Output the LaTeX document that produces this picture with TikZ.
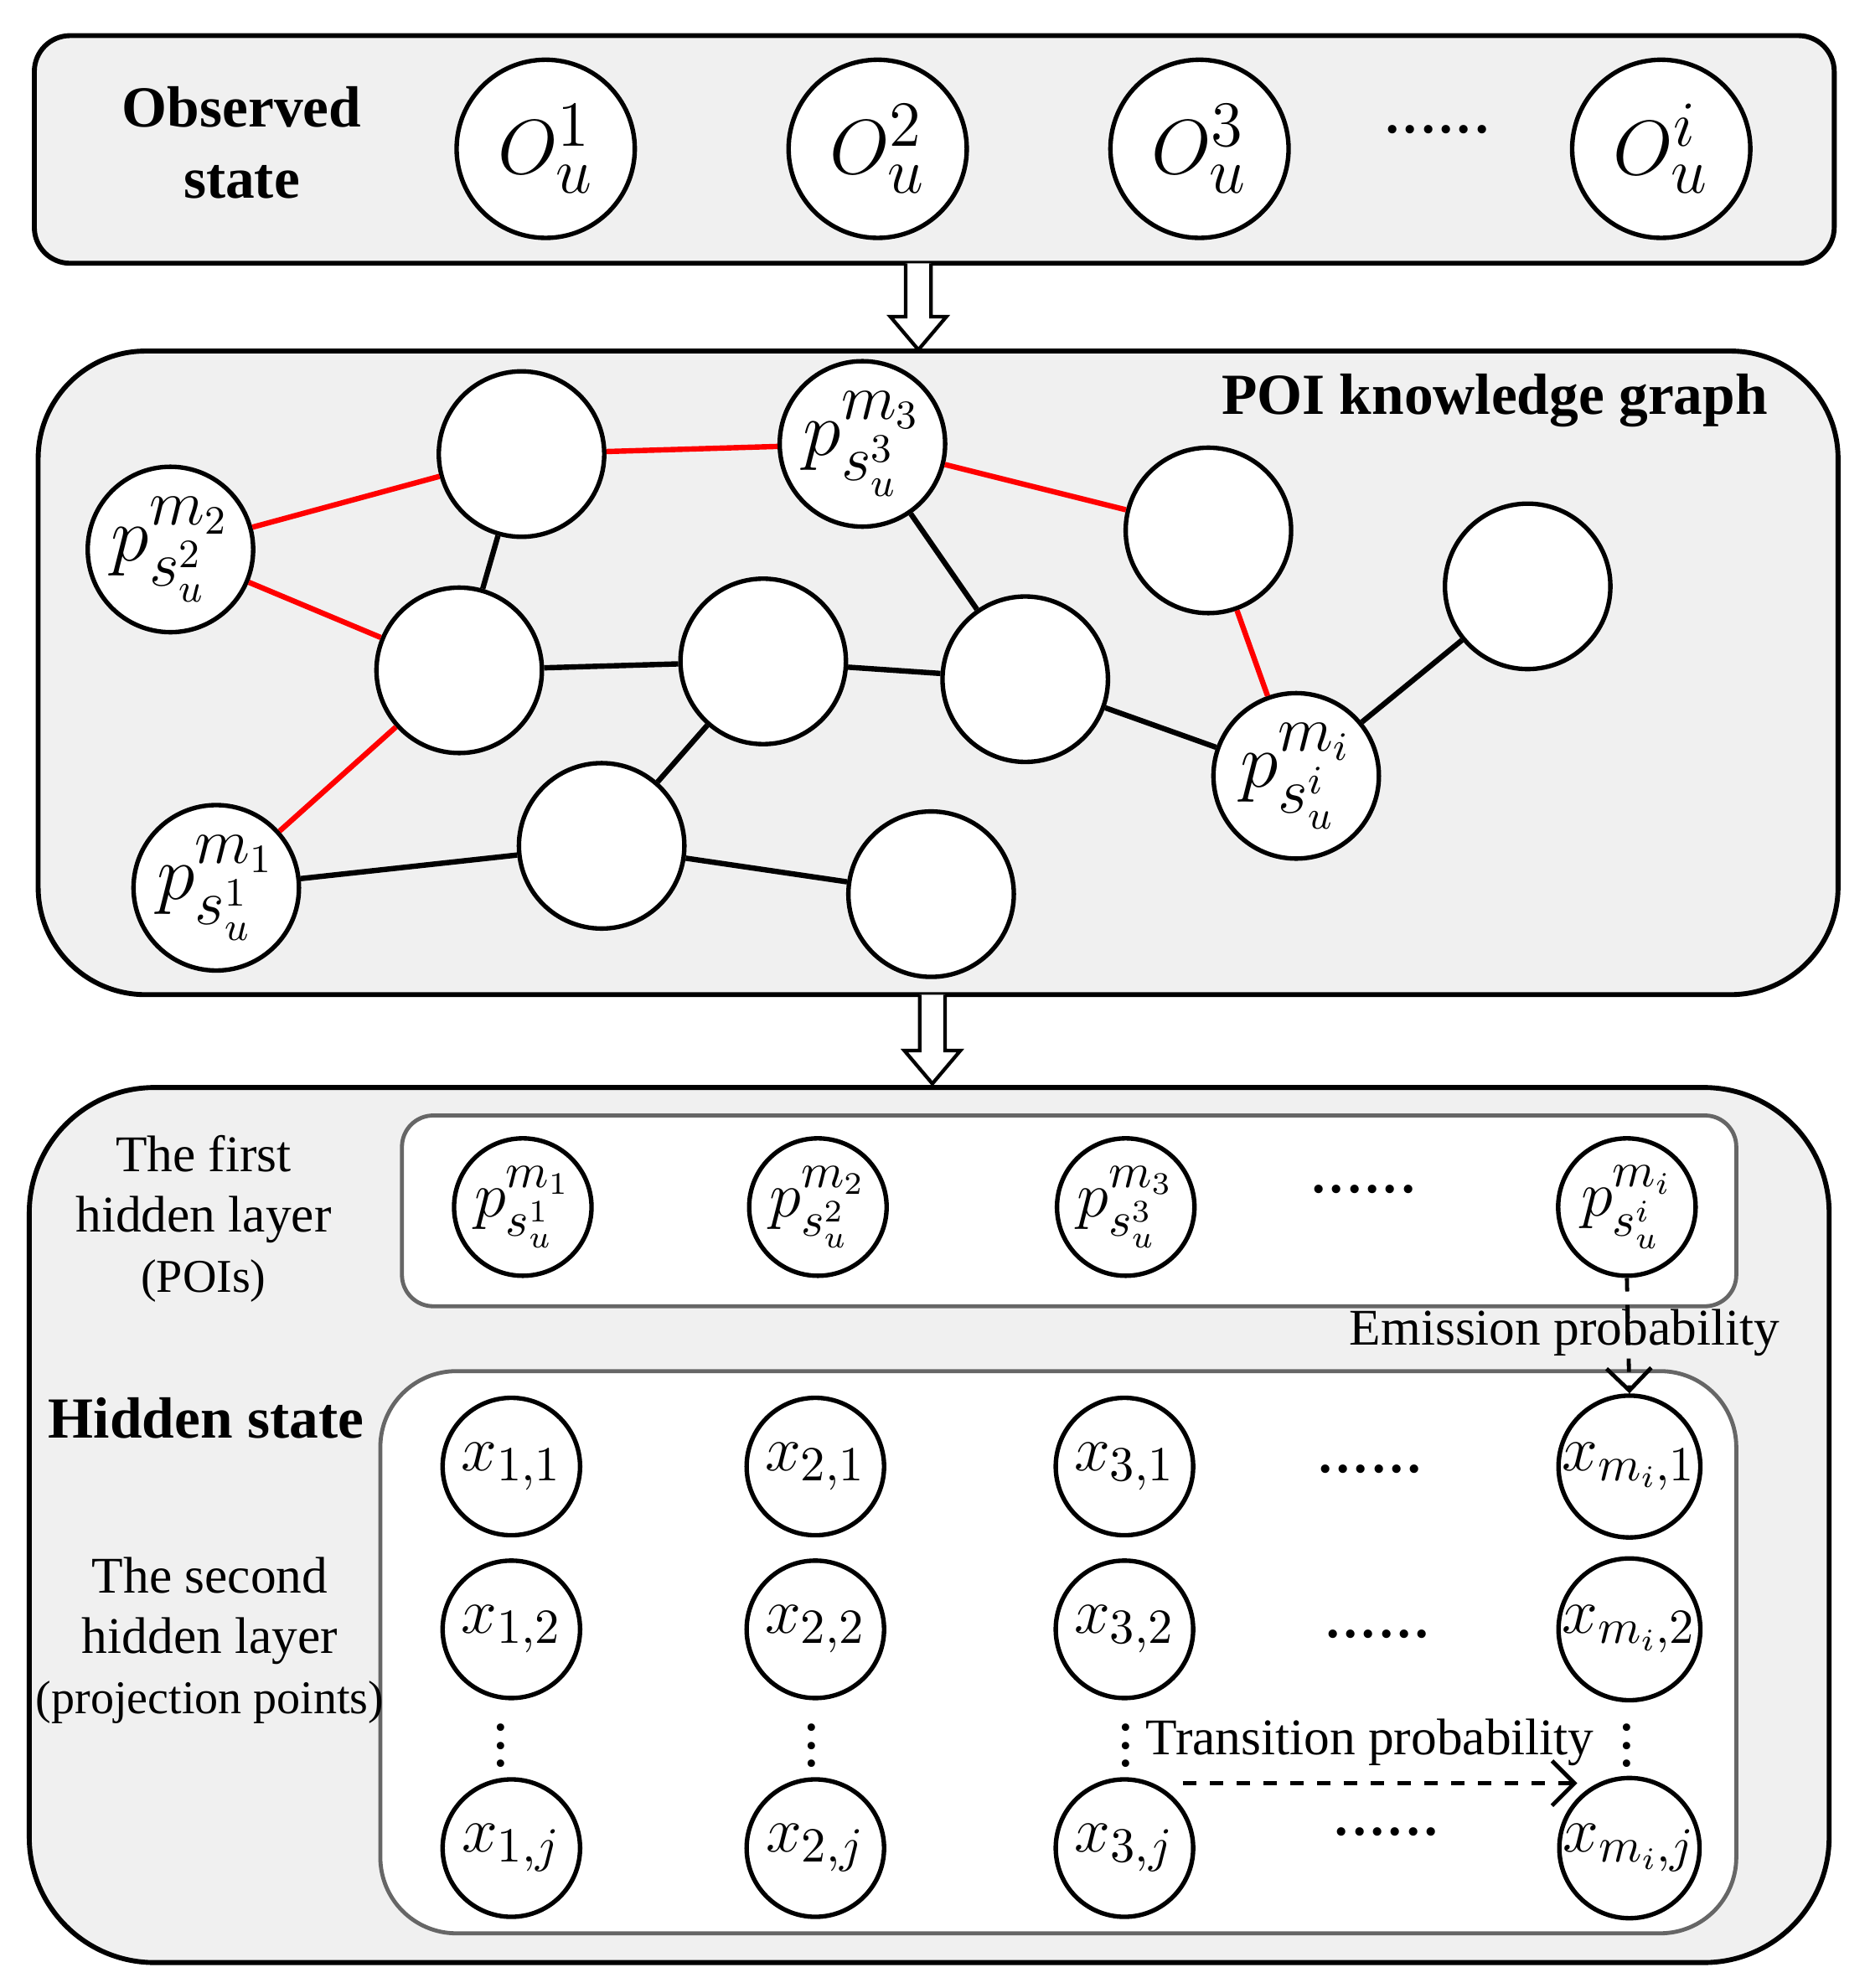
\documentclass[tikz,border=0pt]{standalone}
\usepackage{fontspec}
\setmainfont{Liberation Serif}
\usetikzlibrary{arrows.meta}
\begin{document}
\begin{tikzpicture}[x=0.01cm,y=-0.01cm,
 box/.style={draw,line width=1.1pt,rounded corners=#1},
 big/.style={circle,draw,fill=white,line width=1pt,minimum size=1.4cm,inner sep=0pt,font=\fontsize{19}{19}\selectfont},
 gn/.style={circle,draw,fill=white,line width=1pt,minimum size=1.3cm,inner sep=0pt,font=\fontsize{19}{19}\selectfont},
 sm/.style={circle,draw,fill=white,line width=1pt,minimum size=1.08cm,inner sep=0pt,font=\fontsize{15}{15}\selectfont},
 red/.style={draw=red,line width=1.2pt},
 blk/.style={draw=black,line width=1.2pt},
 lab/.style={font=\fontsize{11.5}{13.5}\selectfont,align=center},
 bold/.style={font=\fontsize{13}{16}\selectfont\bfseries,align=center},
 dots/.style={font=\fontsize{16}{16}\selectfont}]
\useasboundingbox (0,0) rectangle (1470,1563);
% boxes
\draw[box=8pt,fill=gray!12] (27,28) rectangle (1442,207);
\draw[box=24pt,fill=gray!12] (30,276) rectangle (1445,782);
\draw[box=28pt,fill=gray!12] (23,855) rectangle (1438,1543);
\draw[line width=0.9pt,draw=gray!80!black,fill=white,rounded corners=7pt] (316,877) rectangle (1365,1027);
\draw[line width=0.9pt,draw=gray!80!black,fill=white,rounded corners=17pt] (299,1078) rectangle (1365,1520);
\coordinate (ar1) at (722,207);
\draw[line width=0.8pt,fill=white] (ar1) ++(-10,0) -- ++(0,42) -- ++(-12,0) -- ++(22,26) -- ++(22,-26) -- ++(-12,0) -- ++(0,-42);
\coordinate (ar2) at (733,782);
\draw[line width=0.8pt,fill=white] (ar2) ++(-10,0) -- ++(0,44) -- ++(-12,0) -- ++(22,26) -- ++(22,-26) -- ++(-12,0) -- ++(0,-44);
% top
\node[bold] (obs) at (190,112) {Observed\\state};
\node[big] (o1) at (429,117) {$O_u^1$};
\node[big] (o2) at (690,117) {$O_u^2$};
\node[big] (o3) at (943,117) {$O_u^3$};
\node[big] (oi) at (1306,117) {$O_u^i$};
\node[dots] (d0) at (1130,102) {......};
% graph
\node[bold] (kg) at (1175,315) {POI knowledge graph};
\node[gn] (A) at (134,432) {$p^{m_2}_{s_u^2}$};
\node[gn] (B) at (410,357) {};
\node[gn] (C) at (678,349) {$p^{m_3}_{s_u^3}$};
\node[gn] (D) at (950,417) {};
\node[gn] (E) at (1201,461) {};
\node[gn] (F) at (361,527) {};
\node[gn] (G) at (600,520) {};
\node[gn] (H) at (806,534) {};
\node[gn] (I) at (1019,610) {$p^{m_i}_{s_u^i}$};
\node[gn] (J) at (170,698) {$p^{m_1}_{s_u^1}$};
\node[gn] (K) at (473,665) {};
\node[gn] (L) at (732,703) {};
\path[red] (A)--(B) (A)--(F) (B)--(C) (C)--(D) (D)--(I) (F)--(J);
\path[blk] (B)--(F) (C)--(H) (F)--(G) (G)--(H) (H)--(I) (I)--(E) (G)--(K) (J)--(K) (K)--(L);
% hidden
\node[lab] (t1) at (160,958) {The first\\hidden layer\\{\fontsize{10.5}{13.5}\selectfont(POIs)}};
\node[bold] (hs) at (162,1115) {Hidden state};
\node[lab] (t2) at (165,1290) {The second\\hidden layer\\{\fontsize{10.5}{13.5}\selectfont(projection points)}};
\node[sm] (p1) at (411,949) {$p^{m_1}_{s_u^1}$};
\node[sm] (p2) at (643,949) {$p^{m_2}_{s_u^2}$};
\node[sm] (p3) at (885,949) {$p^{m_3}_{s_u^3}$};
\node[sm] (pi) at (1279,949) {$p^{m_i}_{s_u^i}$};
\node[dots] (d1) at (1072,935) {......};
\foreach \c/\x in {1/402,2/641,3/884}{
 \node[sm] (x\c1) at (\x,1153) {$x_{\c,1}$};
 \node[sm] (x\c2) at (\x,1281) {$x_{\c,2}$};
 \node[sm] (x\c j) at (\x,1453) {$x_{\c,j}$};
}
\node[sm] (xi1) at (1281,1153) {$x_{m_i,1}$};
\node[sm] (xi2) at (1281,1281) {$x_{m_i,2}$};
\node[sm] (xij) at (1281,1453) {$x_{m_i,j}$};
\node[dots] (d2) at (1077,1155) {......};
\node[dots] (d3) at (1083,1285) {......};
\node[dots] (d4) at (1090,1440) {......};
\foreach \x/\n in {394/v1,638/v2,885/v3,1279/v4}{
 \node[font=\fontsize{14}{14}\selectfont,inner sep=0pt] (\n) at (\x,1362) {$\vdots$};
}
\draw[dashed,line width=0.9pt,-{Straight Barb[length=5pt]}] (pi.south) -- (xi1.north);
\node[lab] (em) at (1230,1048) {Emission probability};
\coordinate (ts) at (930,1402);
\draw[dashed,line width=0.9pt,-{Straight Barb[length=5pt]}] (ts) -- (1240,1402);
\node[lab] (tp) at (1077,1370) {Transition probability};
\end{tikzpicture}
\end{document}
